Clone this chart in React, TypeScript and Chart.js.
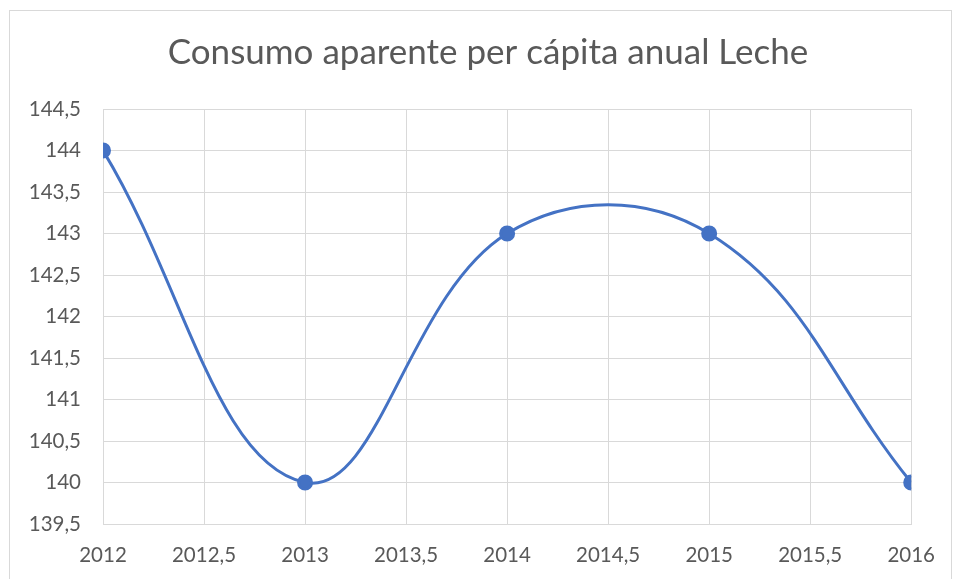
import React, { useEffect, useRef } from "react";
import { Chart, registerables } from "chart.js";

Chart.register(...registerables);

const years = [2012, 2013, 2014, 2015, 2016];
const consumo = [144, 140, 143, 143, 140];
const titleText = "Consumo aparente per cápita anual Leche";

const fmt = (v: number | string) => String(Number(v)).replace(".", ",");

export default function App() {
  const ref = useRef<HTMLCanvasElement>(null);
  useEffect(() => {
    if (!ref.current) return;
    const chart = new Chart(ref.current, {
      type: "line",
      data: {
        datasets: [
          {
            label: titleText,
            data: years.map((y, i) => ({ x: y, y: consumo[i] })),
            borderColor: "#4472C4",
            backgroundColor: "#4472C4",
            borderWidth: 3,
            pointRadius: 6.5,
            pointHoverRadius: 6.5,
            tension: 0.4,
            fill: false,
          },
        ],
      },
      options: {
        animation: false,
        responsive: false,
        layout: { padding: { left: 22, right: 0, top: 0, bottom: 0 } },
        plugins: {
          legend: { display: false },
          tooltip: { enabled: false },
          title: {
            display: true,
            text: titleText,
            color: "#595959",
            font: { family: "Lato", size: 35, weight: "normal", lineHeight: 1.2 },
            padding: { top: 32, bottom: 35 },
          },
        },
        scales: {
          x: {
            type: "linear",
            min: 2012,
            max: 2016,
            ticks: {
              stepSize: 0.5,
              callback: (v) => fmt(v),
              color: "#595959",
              font: { family: "Lato", size: 20.5 },
              padding: 19,
              maxRotation: 0,
            },
            grid: { color: "#d9d9d9", lineWidth: 1, drawTicks: false },
            border: { color: "#d9d9d9", width: 1 },
            afterFit: (s: any) => {
              s.height = 55;
            },
          },
          y: {
            min: 139.5,
            max: 144.5,
            ticks: {
              stepSize: 0.5,
              callback: (v) => fmt(v),
              color: "#595959",
              font: { family: "Lato", size: 20.5 },
              padding: 22,
            },
            grid: { color: "#d9d9d9", lineWidth: 1, drawTicks: false },
            border: { display: false },
            afterFit: (s: any) => {
              s.width = 81;
            },
          },
          yRight: {
            type: "linear",
            position: "right",
            min: 139.5,
            max: 144.5,
            ticks: { display: false },
            grid: { display: false, drawTicks: false },
            border: { display: false },
            afterFit: (s: any) => {
              s.width = 39;
            },
          },
        },
      },
    });
    return () => chart.destroy();
  }, []);
  return (
    <div style={{ position: "absolute", left: 0, top: 0, width: 954, height: 579, background: "#fff", overflow: "hidden" }}>
      <div
        style={{
          position: "absolute",
          left: 9,
          top: 10,
          width: 941,
          height: 600,
          border: "1px solid #d9d9d9",
        }}
      />
      <canvas ref={ref} width={954} height={579} style={{ position: "absolute", left: 0, top: 0 }} />
    </div>
  );
}
